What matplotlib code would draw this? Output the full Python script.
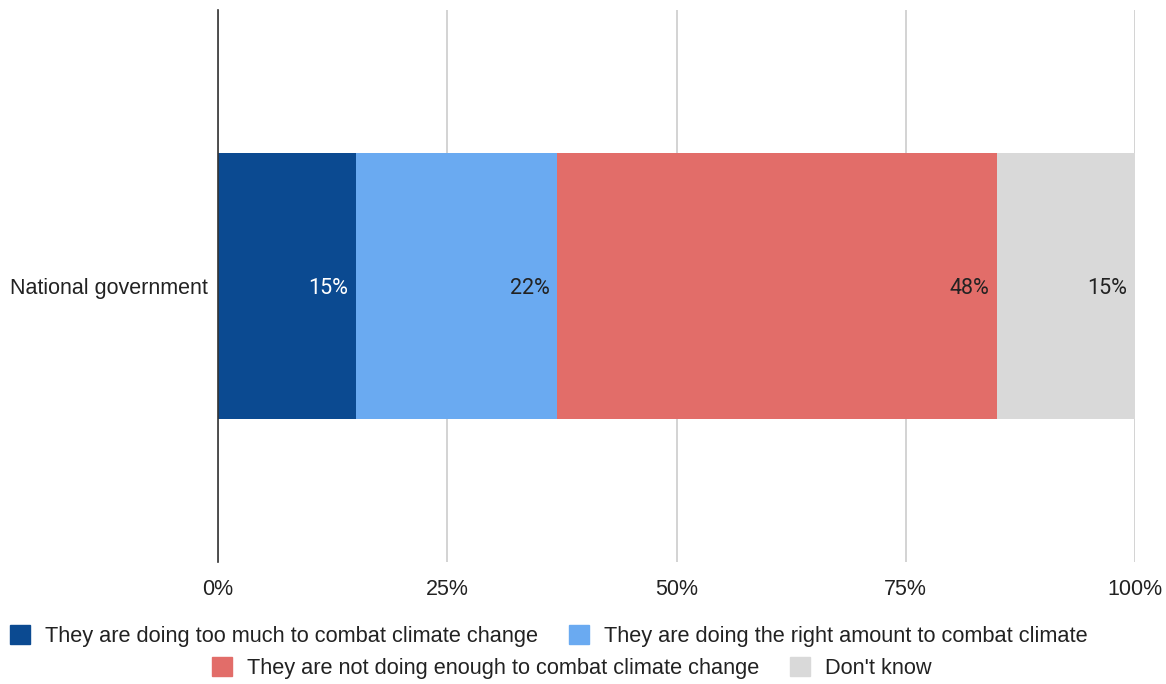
import matplotlib
matplotlib.use("Agg")
import matplotlib.pyplot as plt
from matplotlib.patches import Patch
from matplotlib.ticker import FuncFormatter

plt.rcParams['font.family'] = ['Liberation Sans', 'DejaVu Sans']

categories = ["National government"]
series_names = [
    "They are doing too much to combat climate change",
    "They are doing the right amount to combat climate",
    "They are not doing enough to combat climate change",
    "Don't know",
]
values = [15, 22, 48, 15]
colors = ["#0b4a91", "#6aaaf1", "#e26d69", "#d9d9d9"]
label_colors = ["white", "#222222", "#222222", "#222222"]
x_ticks = [0, 25, 50, 75, 100]

W, H = 1166, 684
fig = plt.figure(figsize=(W / 100, H / 100), dpi=100)
ax = fig.add_axes([218 / W, 1 - 562 / H, (1135 - 218) / W, (562 - 10) / H])

left = 0
for name, v, c, lc in zip(series_names, values, colors, label_colors):
    ax.barh(categories, [v], left=[left], height=0.482, color=c, zorder=3)
    ax.text(left + v - 0.85, 0, f"{v}%", ha="right", va="center_baseline",
            color=lc, fontsize=15.5, family=['Roboto', 'DejaVu Sans'], zorder=4)
    left += v

ax.set_xlim(0, 100)
ax.set_ylim(-0.5, 0.5)
ax.set_xticks(x_ticks)
ax.xaxis.set_major_formatter(FuncFormatter(lambda v, p: f"{int(v)}%"))
ax.grid(axis="x", color="#cccccc", linewidth=1.2, zorder=0)
for s in ["top", "right", "bottom"]:
    ax.spines[s].set_visible(False)
ax.spines["left"].set_color("#333333")
ax.spines["left"].set_linewidth(1.2)
ax.spines["left"].set_zorder(5)
ax.tick_params(axis="both", length=0, labelsize=15.5, colors="#222222")
ax.tick_params(axis="x", pad=12)
ax.tick_params(axis="y", pad=7)

handles = [Patch(facecolor=c, edgecolor=c) for c in colors]
leg_kw = dict(loc="center left", ncol=2, frameon=False, fontsize=15.7,
              handlelength=0.92, handleheight=0.92, handletextpad=0.7,
              columnspacing=1.4, labelcolor="#222222", borderpad=0,
              borderaxespad=0)
fig.legend(handles[:2], series_names[:2],
           bbox_to_anchor=(10 / W, 1 - 636 / H), **leg_kw)
fig.legend(handles[2:], series_names[2:],
           bbox_to_anchor=(212 / W, 1 - 668 / H), **leg_kw)

fig.savefig("out.png", dpi=100)
